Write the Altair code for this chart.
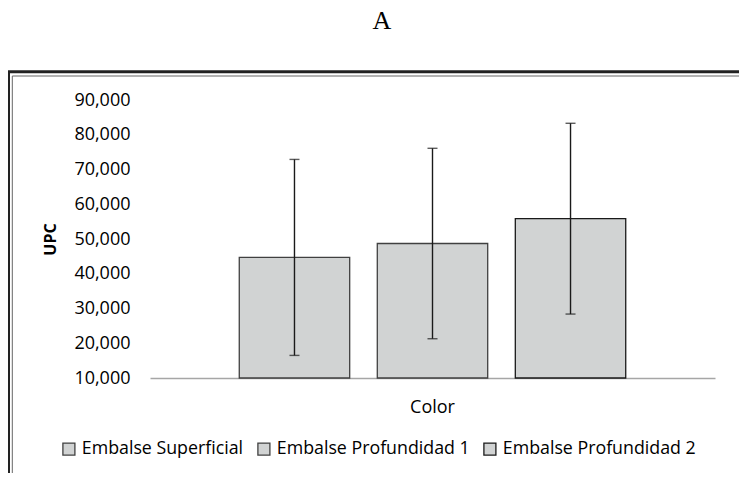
import altair as alt
import pandas as pd

# ---- data ----
series = ["Embalse Superficial", "Embalse Profundidad 1", "Embalse Profundidad 2"]
category = ["Color", "Color", "Color"]
means = [44700, 48700, 55850]
errors = [28200, 27400, 27450]
y_ticks = [10000, 20000, 30000, 40000, 50000, 60000, 70000, 80000, 90000]
y_min, y_max = 10000, 90000
panel_label = "A"

df = pd.DataFrame({"cat": category, "serie": series, "upc": means, "err": errors})
df["lo"] = df["upc"] - df["err"]
df["hi"] = df["upc"] + df["err"]

FONT = "Open Sans"
W, H = 565, 278
FILL = "#d1d3d3"
ERR = "#1a1a1a"

x_enc = alt.X(
    "cat:N", title=None,
    scale=alt.Scale(paddingInner=0, paddingOuter=0.231),
    axis=alt.Axis(labelAngle=0, ticks=False, tickSize=0, labelPadding=20,
                  labelFontSize=18, labelFont=FONT, labelColor="#000",
                  domainColor="#a6a6a6", domainWidth=1.5, grid=False),
)
xo_enc = alt.XOffset("serie:N", sort=series,
                     scale=alt.Scale(domain=series, paddingInner=0.2, paddingOuter=0))
y_scale = alt.Scale(domain=[y_min, y_max], nice=False, zero=False)
y_axis = alt.Axis(values=y_ticks, format=",.0f", domain=False, ticks=False, tickSize=0, grid=False,
                  labelOverlap=False, labelFontSize=18, labelFont=FONT, labelColor="#000",
                  labelPadding=20, titleFont=FONT, titleFontSize=16, titleFontWeight="bold",
                  titleColor="#000", titleX=-100, titleY=H / 2, titleAngle=270,
                  titleAlign="center", titleBaseline="middle")

legend = alt.Legend(
    orient="none", legendX=-90, legendY=340, direction="horizontal", title=None,
    symbolType="square", symbolSize=144, labelFontSize=17.8, labelFont=FONT,
    labelColor="#000", labelOffset=4, columnPadding=11, padding=0, labelLimit=300,
)

bars = alt.Chart(df).mark_bar().encode(
    x=x_enc,
    xOffset=xo_enc,
    y=alt.Y("upc:Q", scale=y_scale, title="UPC", axis=y_axis),
    y2=alt.datum(y_min),
    fill=alt.Fill("serie:N", sort=series,
                  scale=alt.Scale(domain=series, range=[FILL, FILL, FILL]), legend=legend),
    stroke=alt.Stroke("serie:N", sort=series,
                      scale=alt.Scale(domain=series, range=["#404040", "#404040", "#1a1a1a"]),
                      legend=legend),
    strokeWidth=alt.StrokeWidth("serie:N", sort=series,
                                scale=alt.Scale(domain=series, range=[1.3, 1.3, 2.3]),
                                legend=legend),
)

rules = alt.Chart(df).mark_rule(color=ERR, strokeWidth=1.4).encode(
    x=x_enc, xOffset=xo_enc,
    y=alt.Y("lo:Q", scale=y_scale, title="UPC", axis=y_axis),
    y2="hi:Q",
)
cap_lo = alt.Chart(df).mark_tick(color=ERR, size=10, thickness=1.4).encode(
    x=x_enc, xOffset=xo_enc, y=alt.Y("lo:Q", scale=y_scale, title="UPC", axis=y_axis),
)
cap_hi = alt.Chart(df).mark_tick(color=ERR, size=10, thickness=1.4).encode(
    x=x_enc, xOffset=xo_enc, y=alt.Y("hi:Q", scale=y_scale, title="UPC", axis=y_axis),
)

# decorative frame (outer thick + inner thin line) and the panel letter, as in the source figure
one = pd.DataFrame({"k": [0]})
frame = alt.layer(
    alt.Chart(one).mark_rule(color="#222", strokeWidth=3).encode(
        x=alt.value(-142), x2=alt.value(W + 30), y=alt.value(-28.3), y2=alt.value(-28.3)),
    alt.Chart(one).mark_rule(color="#222", strokeWidth=3).encode(
        x=alt.value(-141.5), x2=alt.value(-141.5), y=alt.value(-28.3), y2=alt.value(H + 95)),
    alt.Chart(one).mark_rule(color="#666", strokeWidth=1).encode(
        x=alt.value(-137.7), x2=alt.value(W + 30), y=alt.value(-24), y2=alt.value(-24)),
    alt.Chart(one).mark_rule(color="#666", strokeWidth=1).encode(
        x=alt.value(-137.7), x2=alt.value(-137.7), y=alt.value(-24), y2=alt.value(H + 95)),
    alt.Chart(one).mark_text(text=panel_label, font="Liberation Serif", fontSize=26,
                             color="#000", align="center", baseline="alphabetic").encode(
        x=alt.value(232), y=alt.value(-71)),
)

chart = alt.layer(bars, rules, cap_lo, cap_hi, frame).properties(
    width=W, height=H,
    background="white",
    autosize=alt.AutoSizeParams(type="none"),
    padding={"left": 142, "top": 92, "right": 24, "bottom": 95},
).configure_view(strokeWidth=0)

chart.save("out.html", embed_options={"renderer": "svg", "actions": False})
